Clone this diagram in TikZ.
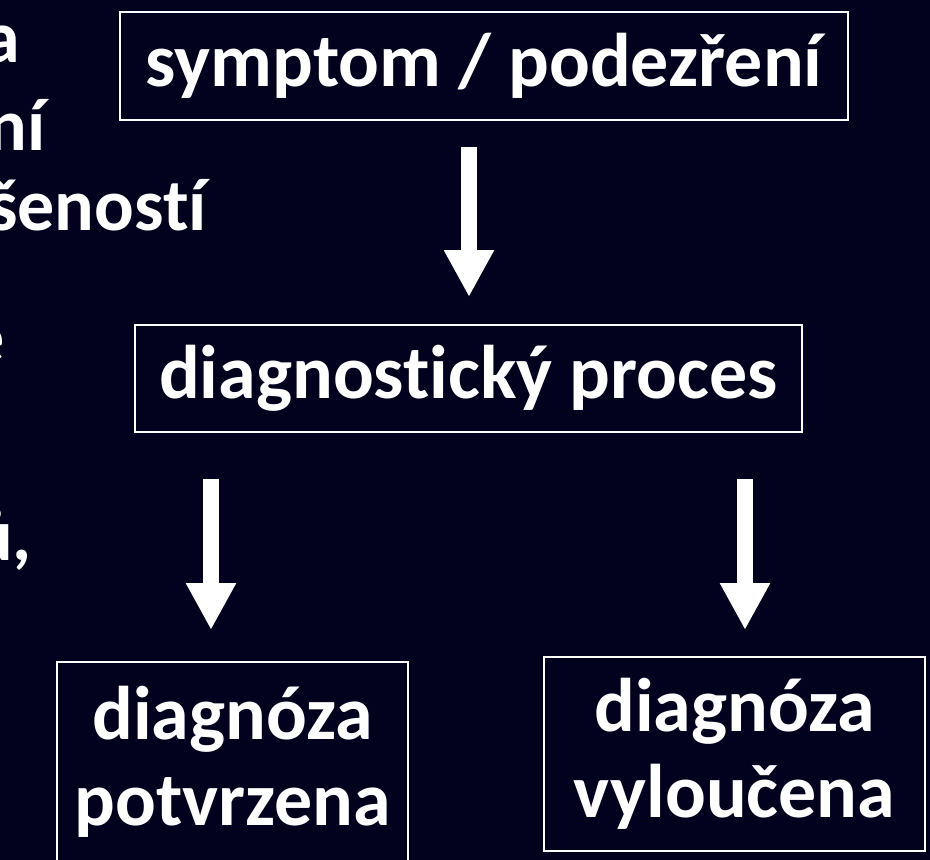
\documentclass[tikz,border=0pt]{standalone}
\usepackage{fontspec}
\setmainfont{Carlito}[Ligatures={NoCommon}]
\usetikzlibrary{arrows.meta}
\definecolor{bg}{RGB}{2,2,30}
\begin{document}
\begin{tikzpicture}[x=1pt,y=-1pt,
  box/.style={draw=white, line width=2.8pt, fill=bg, text=white, font=\bfseries\fontsize{76}{86}\selectfont, inner sep=0pt, align=center},
  frag/.style={text=white, font=\bfseries\fontsize{74}{86}\selectfont, inner sep=0pt, anchor=base east},
  blockarrow/.style={draw=white, line width=16pt, -{Triangle[width=47pt,length=47pt]}}]
\fill[bg] (0,0) rectangle (930,860);
\useasboundingbox (0,0) rectangle (930,860);
\begin{scope}
\clip (0,0) rectangle (930,860);
\node[frag] (f1) at (20,62) {a};
\node[frag] (f2) at (46,150) {ní};
\node[frag] (f3) at (207,230) {šeností};
\node[frag] (f4) at (5,362) {é};
\node[frag] (f5) at (32,560) {ů,};
\node[box, minimum width=728pt, minimum height=108pt] (b1) at (484,66) {symptom / podezření};
\node[box, minimum width=667pt, minimum height=107pt] (b2) at (468.5,378.5) {diagnostický proces};
\node[box, minimum width=351pt, minimum height=200pt] (b3) at (232.5,762) {diagnóza\\potvrzena};
\node[box, minimum width=381pt, minimum height=194pt] (b4) at (734.5,754) {diagnóza\\vyloučena};
\coordinate (a1s) at (469,147);
\coordinate (a1e) at (469,297);
\coordinate (a2s) at (211,479);
\coordinate (a2e) at (211,630);
\coordinate (a3s) at (745,479);
\coordinate (a3e) at (745,630);
\draw[blockarrow] (a1s) -- (a1e);
\draw[blockarrow] (a2s) -- (a2e);
\draw[blockarrow] (a3s) -- (a3e);
\end{scope}
\end{tikzpicture}
\end{document}
